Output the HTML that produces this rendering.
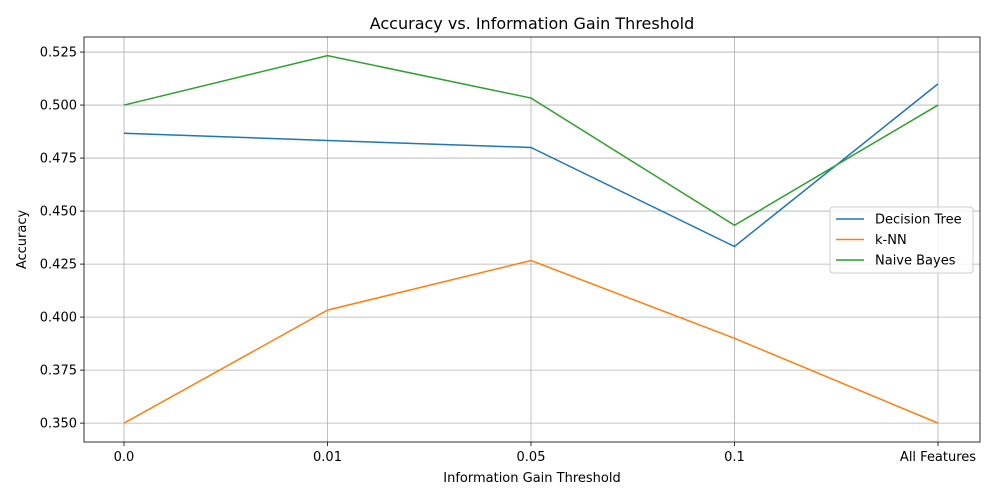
<!DOCTYPE html>
<html><head><meta charset="utf-8"><style>
body{margin:0;background:#fff;font-family:"DejaVu Sans","Liberation Sans",sans-serif}
svg text{font-family:"DejaVu Sans","Liberation Sans",sans-serif}
</style></head><body>
<svg id="chart" width="1000" height="500" xmlns="http://www.w3.org/2000/svg"></svg>
<script>
const categories=["0.0","0.01","0.05","0.1","All Features"];
const decisionTree=[0.4867,0.4833,0.48,0.4333,0.51];
const knn=[0.35,0.4033,0.4267,0.39,0.35];
const naiveBayes=[0.5,0.5233,0.5033,0.4433,0.5];
const yTicks=[0.35,0.375,0.4,0.425,0.45,0.475,0.5,0.525];
const L=84,R=980,T=37,B=442,yMin=0.3411,yMax=0.5321;
const NS="http://www.w3.org/2000/svg";
const svg=document.getElementById('chart');
const xs=i=>124+i*(938-124)/(categories.length-1);
const ys=v=>B-(v-yMin)/(yMax-yMin)*(B-T);
function mk(t,a,p){const e=document.createElementNS(NS,t);for(const k in a)e.setAttribute(k,a[k]);(p||svg).appendChild(e);return e;}
const grid=mk('g',{});


categories.forEach((c,i)=>{
 mk('line',{x1:xs(i),x2:xs(i),y1:T,y2:B,stroke:'#b0b0b0','stroke-width':0.8},grid);
 mk('line',{x1:xs(i),x2:xs(i),y1:B,y2:B+4,stroke:'#000','stroke-width':0.8});
 const t=mk('text',{x:xs(i),y:B+19,'text-anchor':'middle','font-size':13});t.textContent=c;
 
 
});
yTicks.forEach(v=>{
 mk('line',{x1:L,x2:R,y1:ys(v),y2:ys(v),stroke:'#b0b0b0','stroke-width':0.8},grid);
 mk('line',{x1:L-4,x2:L,y1:ys(v),y2:ys(v),stroke:'#000','stroke-width':0.8});
 const t=mk('text',{x:L-7,y:ys(v)+4.5,'text-anchor':'end','font-size':13});t.textContent=v.toFixed(3);
 
 
});
const series=[[decisionTree,'#1f77b4','decision-tree-line'],[knn,'#ff7f0e','knn-line'],[naiveBayes,'#2ca02c','naive-bayes-line']];
series.forEach(([d,c,n])=>{
 const p=mk('polyline',{points:d.map((v,i)=>xs(i)+','+ys(v)).join(' '),fill:'none',stroke:c,'stroke-width':1.5});
 
 
});
const frame=mk('rect',{x:L,y:T,width:R-L,height:B-T,fill:'none',stroke:'#000','stroke-width':0.8});


const title=mk('text',{x:(L+R)/2,y:29,'text-anchor':'middle','font-size':16});title.textContent='Accuracy vs. Information Gain Threshold';


const xt=mk('text',{x:(L+R)/2,y:482,'text-anchor':'middle','font-size':13});xt.textContent='Information Gain Threshold';


const yt=mk('text',{x:26,y:(T+B)/2,'text-anchor':'middle','font-size':13,transform:'rotate(-90 26 '+(T+B)/2+')'});yt.textContent='Accuracy';


const lg=mk('g',{});


mk('rect',{x:830,y:207,width:143,height:66,rx:3,fill:'#fff','fill-opacity':0.8,stroke:'#ccc'},lg);
[['Decision Tree','#1f77b4'],['k-NN','#ff7f0e'],['Naive Bayes','#2ca02c']].forEach(([n,c],i)=>{
 const y=219+i*20.5;
 mk('line',{x1:836,x2:864,y1:y,y2:y,stroke:c,'stroke-width':1.5},lg);
 const t=mk('text',{x:875,y:y+4.5,'font-size':13},lg);t.textContent=n;
 
 
});
</script>
</body></html>
